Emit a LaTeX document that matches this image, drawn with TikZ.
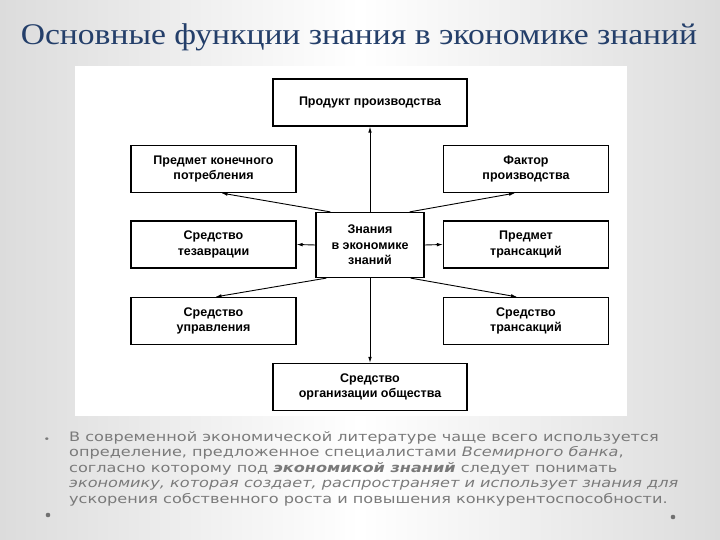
\documentclass[tikz,border=0pt]{standalone}
\usepackage{fontspec}
\setmainfont{Liberation Serif}
\setsansfont{Liberation Sans}
\newfontfamily\titlefont[FakeStretch=1.12]{Liberation Serif}
\newfontfamily\bodyfont[FakeStretch=1.24]{DejaVu Sans}
\usetikzlibrary{arrows.meta,calc}
\definecolor{titleblue}{HTML}{243F6A}
\definecolor{bodygray}{HTML}{7A7A7A}
\definecolor{dotgray}{HTML}{707070}
\definecolor{slidegray}{HTML}{DCDCDC}

\begin{document}
\begin{tikzpicture}[x=1pt,y=-1pt,
  fn/.style={draw=black,line width=1.2pt,fill=white,align=center,inner sep=2pt,font=\sffamily\bfseries\fontsize{12.5}{15.5}\selectfont},
  side/.style={fn,minimum width=165pt,minimum height=47pt},
  wide/.style={fn,minimum width=194pt,minimum height=47pt},
  link/.style={-{Latex[length=6pt,width=3.6pt]},line width=0.9pt}]
\useasboundingbox (0,0) rectangle (720,540);
\shade[left color=slidegray,right color=slidegray,middle color=white] (0,0) rectangle (720,540);
\fill[white] (75,66) rectangle (627,416);

\node[font=\titlefont\fontsize{30}{34}\selectfont,text=titleblue] (title) at (359,37) {Основные функции знания в экономике знаний};

% scheme
\node[fn,minimum width=108pt,minimum height=65pt] (know) at (370,245) {Знания\\в экономике\\знаний};
\node[wide] (prod) at (370,102.5) {Продукт производства};
\node[wide] (soc) at (370,387) {Средство\\организации общества};
\node[side] (cons) at (213.5,169) {Предмет конечного\\потребления};
\node[side] (fact) at (526,169) {Фактор\\производства};
\node[side] (thes) at (213.5,244.5) {Средство\\тезаврации};
\node[side] (subj) at (526,244.5) {Предмет\\трансакций};
\node[side] (mgmt) at (213.5,321) {Средство\\управления};
\node[side] (trans) at (526,321) {Средство\\трансакций};

\draw[link] (know.north) -- (prod.south);
\draw[link] (know.south) -- (soc.north);
\draw[link] ([xshift=15pt]know.north west) -- ([xshift=8pt]cons.south);
\draw[link] ([xshift=-15pt]know.north east) -- ([xshift=-11pt]fact.south);
\draw[link] (know.west) -- (thes.east);
\draw[link] (know.east) -- (subj.west);
\draw[link] ([xshift=11pt]know.south west) -- ([xshift=2pt]mgmt.north);
\draw[link] ([xshift=-14pt]know.south east) -- ([xshift=-9pt]trans.north);

% text below
\node[text=bodygray,font=\bodyfont\fontsize{9}{9}\selectfont] (bul) at (47,440) {•};
\node[anchor=north west,align=left,inner sep=0pt,text=bodygray,font=\bodyfont\fontsize{13}{15.6}\selectfont] (def) at (69,431)
  {В современной экономической литературе чаще всего используется\\
   определение, предложенное специалистами \textit{Всемирного банка},\\
   согласно которому под \textbf{\textit{экономикой знаний}} следует понимать\\
   \textit{экономику, которая создает, распространяет и использует знания для}\\
   ускорения собственного роста и повышения конкурентоспособности.};
\fill[dotgray] (48,515) circle (2.3pt);
\fill[dotgray] (673,517) circle (2.3pt);
\end{tikzpicture}
\end{document}
